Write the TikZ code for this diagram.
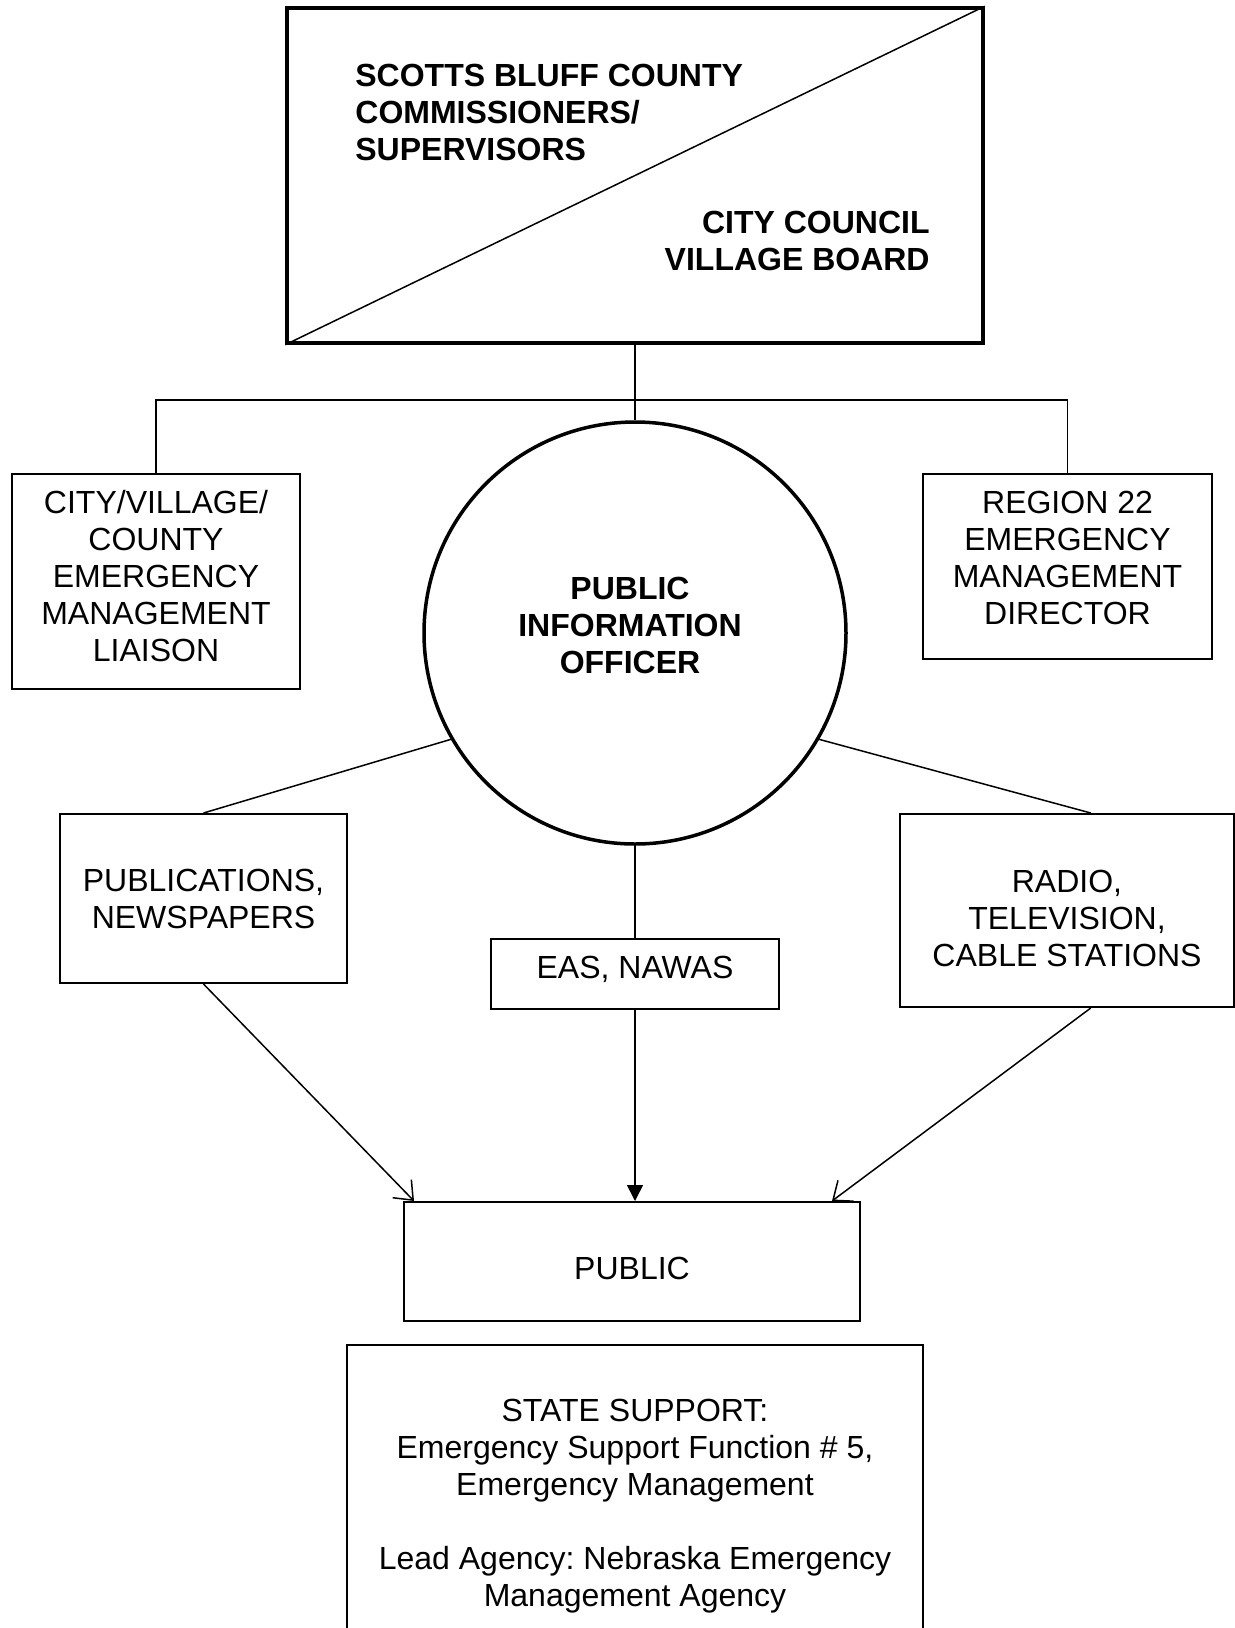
\documentclass[tikz,border=0pt]{standalone}
\usepackage{fontspec}
\setmainfont{Liberation Sans}
\frenchspacing
\usetikzlibrary{arrows.meta,calc}
\begin{document}
\begin{tikzpicture}[x=0.5pt,y=-0.5pt,
  txt/.style={font=\fontsize{16pt}{18.5pt}\selectfont, align=center, inner sep=0pt},
  btxt/.style={font=\fontsize{16pt}{18.5pt}\selectfont\bfseries, inner sep=0pt},
  box/.style={draw, line width=1pt, rectangle, inner sep=0pt},
  thickbox/.style={draw, line width=1.75pt, inner sep=0pt},
  conn/.style={line width=0.75pt},
  openarrow/.style={conn, -{Straight Barb[length=8pt, width=13pt, line width=0.75pt]}},
  fillarrow/.style={conn, -{Triangle[length=8pt, width=8pt]}}]
\useasboundingbox (0,0) rectangle (1235,1628);
\clip (0,0) rectangle (1235,1628);
% top box
\node[thickbox, rectangle, minimum width=348pt, minimum height=167.5pt] (top) at (635,175.5) {};
\draw[line width=0.75pt] (top.south west) -- (top.north east);
\node[btxt, anchor=west, align=left] (county) at (355,112) {SCOTTS BLUFF COUNTY\\COMMISSIONERS/\\SUPERVISORS};
\node[btxt, anchor=east, align=right] (city) at (930,241) {CITY COUNCIL\\VILLAGE BOARD};
% second row
\node[box, minimum width=143.75pt, minimum height=107.5pt] (left) at (156,581.5) {};
\node[txt] (lefttext) at (156,576) {CITY/VILLAGE/\\COUNTY\\EMERGENCY\\MANAGEMENT\\LIAISON};
\node[box, minimum width=144.5pt, minimum height=92.5pt] (right) at (1067.5,566.5) {};
\node[txt] (righttext) at (1067.5,558) {REGION 22\\EMERGENCY\\MANAGEMENT\\DIRECTOR};
\node[thickbox, circle, minimum size=211pt] (circ) at (635,633) {};
\node[btxt, align=center] (pio) at (630,625) {PUBLIC\\INFORMATION\\OFFICER};
\coordinate (bus) at (635,400);
\draw[conn] (top.south) -- (circ.north);
\draw[conn] (left.north) |- (bus) -| (right.north);
% third row
\node[box, minimum width=143.5pt, minimum height=84.5pt] (pubs) at (203.5,898.5) {};
\node[txt] (pubstext) at (203.5,899) {PUBLICATIONS,\\NEWSPAPERS};
\node[box, minimum width=144pt, minimum height=35pt] (eas) at (635,974) {};
\node[txt] (eastext) at (635,969) {EAS, NAWAS};
\node[box, minimum width=166.75pt, minimum height=96.5pt] (radio) at (1066.75,910.5) {};
\node[txt] (radiotext) at (1067,918) {RADIO,\\TELEVISION,\\CABLE STATIONS};
\draw[conn] (circ.210) -- (pubs.north);
\draw[conn] (circ.-30) -- ($(radio.north)+(24,0)$);
\draw[conn] (circ.south) -- (eas.north);
% public
\node[box, minimum width=228pt, minimum height=59.5pt] (public) at (632,1261.5) {};
\node[txt] (publictext) at (632,1268) {PUBLIC};
\draw[openarrow] (pubs.south) -- ($(public.north west)+(11,0)$);
\draw[fillarrow] (eas.south) -- (eas.south |- public.north);
\draw[openarrow] ($(radio.south)+(24,0)$) -- ($(public.north east)+(-29,0)$);
% state support
\node[box, minimum width=288pt, minimum height=177.5pt] (state) at (635,1522.5) {};
\node[txt] (statetext) at (635,1506) {STATE SUPPORT:\\Emergency Support Function \# 5,\\Emergency Management\\[18.5pt]Lead Agency: Nebraska Emergency\\Management Agency};
\end{tikzpicture}
\end{document}
